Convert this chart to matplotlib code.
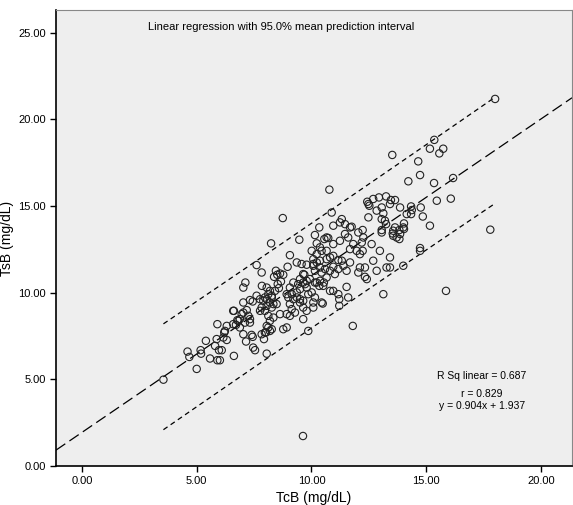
import numpy as np
import matplotlib
matplotlib.use("Agg")
import matplotlib.pyplot as plt

plt.rcParams['font.family'] = ['Liberation Sans', 'DejaVu Sans']

# TcB readings (mg/dL)
tcb = [3.55, 4.60, 4.68, 5.00, 5.17, 5.19, 5.40, 5.58, 5.80, 5.90, 6.01, 5.97, 6.09, 5.90, 6.31,
       6.20, 6.23, 6.31, 6.62, 6.71, 6.77, 6.62, 7.15, 7.44, 7.46, 7.54, 8.05, 7.93, 8.02, 8.12,
       8.27, 8.77, 8.92, 7.03, 7.32, 7.44, 6.88, 6.81, 7.32, 7.18, 7.25, 6.59, 6.88, 7.03, 7.10,
       6.16, 5.87, 6.96, 7.32,
       8.24, 7.61, 7.83, 7.12, 7.03, 7.84, 7.61, 9.06, 9.36, 9.57, 9.79, 8.96, 8.45, 8.37, 8.51,
       8.63, 8.77, 8.67, 8.53, 8.58, 8.41, 9.21, 9.42, 9.64, 9.79, 9.86, 9.36, 9.14, 8.99, 9.21,
       9.36, 9.50, 9.64, 9.06, 9.14, 9.50, 9.64, 9.79, 9.28, 8.92, 9.06, 8.63, 8.12, 8.27, 8.05,
       7.90, 8.19, 8.34, 8.05, 7.83, 8.27, 7.97, 7.76, 6.59, 8.12, 8.19, 8.05, 8.19, 7.97, 7.83,
       7.03, 7.39, 9.64, 9.86, 9.69, 9.93,
       10.15, 10.23, 10.37, 10.44, 10.34, 10.73, 10.01, 10.08, 10.23, 10.37, 10.15, 10.44, 10.59,
       10.66, 10.54, 10.37, 10.23, 9.50, 8.05, 8.19, 8.27, 7.97, 8.48, 7.76, 8.34, 8.75, 9.47,
       10.88, 10.95, 11.24, 11.46, 11.68, 11.32, 10.66, 10.95, 11.24, 11.46, 11.60, 12.04, 11.82,
       11.68, 11.97, 12.19, 12.26, 12.62, 12.98, 13.42, 13.42, 12.84, 12.33, 12.69, 10.23, 10.08,
       10.37, 10.66, 10.95, 12.48, 12.84, 13.06, 13.42, 13.86, 14.15, 14.00, 13.56, 13.86, 13.71,
       13.06, 13.06, 12.48, 12.11, 12.04, 12.33, 12.41, 11.53, 11.39, 11.68, 9.64, 9.79, 10.15,
       14.00, 11.53, 10.08, 10.81, 11.02, 13.27, 10.81, 10.95, 11.17, 11.21, 11.21, 11.60, 10.44,
       13.13, 10.15, 10.01, 9.72, 9.50, 9.06, 8.92, 11.80,
       10.78, 14.22, 14.73, 15.34, 12.43, 12.69, 12.94, 13.25, 13.46, 13.64, 12.52, 13.13, 14.34,
       14.37, 14.76, 15.46, 14.85, 15.16, 11.75, 12.23, 10.56, 13.06, 13.25, 13.54, 13.83, 14.03,
       14.03, 13.83, 13.56, 14.73, 14.73, 12.23, 12.11, 11.17, 10.95, 10.66, 10.81, 11.17, 11.32,
       10.49, 10.08, 10.08, 10.34, 10.51,
       18.00, 15.35, 15.16, 15.74, 15.57, 13.52, 14.65, 16.17, 16.07, 14.34, 17.79, 13.64, 13.20,
       9.63, 15.86]

# TsB readings (mg/dL)
tsb = [4.98, 6.60, 6.29, 5.60, 6.68, 6.48, 7.22, 6.20, 6.93, 6.10, 6.10, 6.68, 6.68, 8.18, 8.08,
       7.70, 7.79, 7.27, 8.95, 8.14, 8.41, 6.35, 7.18, 7.45, 6.83, 6.68, 6.48, 7.32, 7.70, 7.99,
       7.89, 7.89, 7.99, 9.43, 9.57, 9.49, 8.47, 8.37, 8.27, 8.99, 8.66, 8.18, 7.99, 8.85, 8.27,
       7.41, 7.32, 8.76, 8.47,
       12.84, 11.59, 11.16, 10.58, 10.29, 10.39, 9.82, 12.16, 11.74, 11.65, 11.61, 11.49, 11.26,
       10.91, 11.03, 11.10, 11.03, 10.64, 10.49, 10.26, 10.10, 10.58, 10.49, 10.58, 10.29, 9.91,
       10.01, 9.91, 9.72, 9.62, 9.72, 9.62, 9.53, 9.34, 9.05, 9.43, 9.14, 8.95, 8.85, 8.76, 8.66,
       8.76, 9.91, 9.72, 9.62, 9.53, 9.43, 9.34, 9.24, 9.14, 9.14, 8.95, 8.95, 8.95, 8.66, 8.37,
       8.08, 7.79, 7.70, 7.60, 7.60, 7.56, 8.47, 7.79, 11.03, 10.78,
       13.32, 12.84, 12.61, 12.41, 13.76, 13.15, 12.41, 11.65, 11.74, 11.45, 11.26, 11.16, 11.36,
       10.87, 10.58, 10.68, 10.58, 10.20, 10.29, 10.10, 9.82, 9.72, 9.34, 9.62, 8.56, 14.30, 13.05,
       14.62, 13.86, 14.05, 13.95, 13.76, 14.24, 13.18, 12.80, 12.99, 13.38, 13.18, 13.47, 12.80,
       12.51, 12.41, 12.89, 13.18, 12.80, 12.41, 12.03, 11.45, 11.26, 11.45, 11.84, 12.22, 11.93,
       11.84, 11.93, 12.12, 15.11, 14.73, 14.91, 15.11, 14.91, 14.53, 13.76, 13.57, 13.38, 13.18,
       14.24, 13.47, 14.34, 11.45, 11.16, 10.91, 10.78, 11.26, 11.55, 11.74, 11.07, 10.68, 10.58,
       11.55, 10.33, 11.55, 11.26, 11.07, 11.45, 10.10, 10.10, 9.91, 9.62, 9.24, 9.72, 9.43,
       9.91, 9.72, 10.01, 10.49, 10.78, 10.29, 9.91, 8.08,
       15.94, 16.42, 16.78, 16.32, 15.24, 15.40, 15.49, 15.55, 15.34, 15.34, 15.01, 14.57, 14.97,
       14.76, 14.91, 15.30, 14.39, 13.86, 13.80, 13.61, 13.09, 13.61, 13.95, 13.41, 13.61, 13.99,
       13.67, 13.09, 13.28, 12.57, 12.41, 12.41, 12.22, 11.36, 11.49, 12.41, 12.03, 11.88, 11.84,
       9.37, 9.14, 9.43, 10.39, 10.39,
       21.17, 18.81, 18.30, 18.30, 18.03, 17.94, 17.57, 16.61, 15.42, 14.53, 13.63, 13.76, 14.15,
       1.73, 10.10]

# fit summary as printed on the chart
slope = 0.904
intercept = 1.937
r_sq = 0.687
r_val = 0.829
t_crit = 1.97
s_resid = 1.53  # residual SE

x = np.array(tcb)
y = np.array(tsb)
n = len(x)
xbar = x.mean()
sxx = np.sum((x - xbar) ** 2)

fig = plt.figure(figsize=(5.73, 5.05), dpi=100)
ax = fig.add_axes([56 / 573, 39 / 505, 516 / 573, 456 / 505])
ax.set_facecolor('#eeeeee')

xlim = (-1.13, 21.35)
ylim = (0, 26.3)

# fit line across whole axis
xl = np.linspace(xlim[0], xlim[1], 50)
ax.plot(xl, slope * xl + intercept, color='black', lw=0.9, dashes=(9, 4))

# 95% prediction interval over the data range
xp = np.linspace(x.min(), x.max(), 50)
half = t_crit * s_resid * np.sqrt(1 + 1 / n + (xp - xbar) ** 2 / sxx)
yp = slope * xp + intercept
ax.plot(xp, yp + half, color='black', lw=0.9, dashes=(4, 3))
ax.plot(xp, yp - half, color='black', lw=0.9, dashes=(4, 3))

ax.scatter(x, y, s=28, facecolors='none', edgecolors='#222222', linewidths=0.8, zorder=3)

ax.set_xlim(xlim)
ax.set_ylim(ylim)
ax.set_xticks([0, 5, 10, 15, 20])
ax.set_yticks([0, 5, 10, 15, 20, 25])
ax.xaxis.set_major_formatter(matplotlib.ticker.FormatStrFormatter('%.2f'))
ax.yaxis.set_major_formatter(matplotlib.ticker.FormatStrFormatter('%.2f'))
ax.tick_params(labelsize=8, length=4, width=1, direction='out')
for side in ['top', 'right']:
    ax.spines[side].set_color('#888888')
for side in ['left', 'bottom']:
    ax.spines[side].set_linewidth(1.2)

ax.set_xlabel('TcB (mg/dL)', fontsize=10, labelpad=3)
ax.set_ylabel('TsB (mg/dL)', fontsize=10, labelpad=3)

ax.text(0.178, 0.962, 'Linear regression with 95.0% mean prediction interval',
        transform=ax.transAxes, fontsize=8, va='center', ha='left')
ax.text(0.825, 0.198, 'R Sq linear = %.3f' % r_sq, transform=ax.transAxes, fontsize=7.5,
        ha='center', va='center')
ax.text(0.825, 0.158, 'r = %.3f' % r_val, transform=ax.transAxes, fontsize=7.5,
        ha='center', va='center')
ax.text(0.825, 0.131, 'y = %.3fx + %.3f' % (slope, intercept), transform=ax.transAxes,
        fontsize=7.5, ha='center', va='center')

fig.savefig('out.png', dpi=100)
